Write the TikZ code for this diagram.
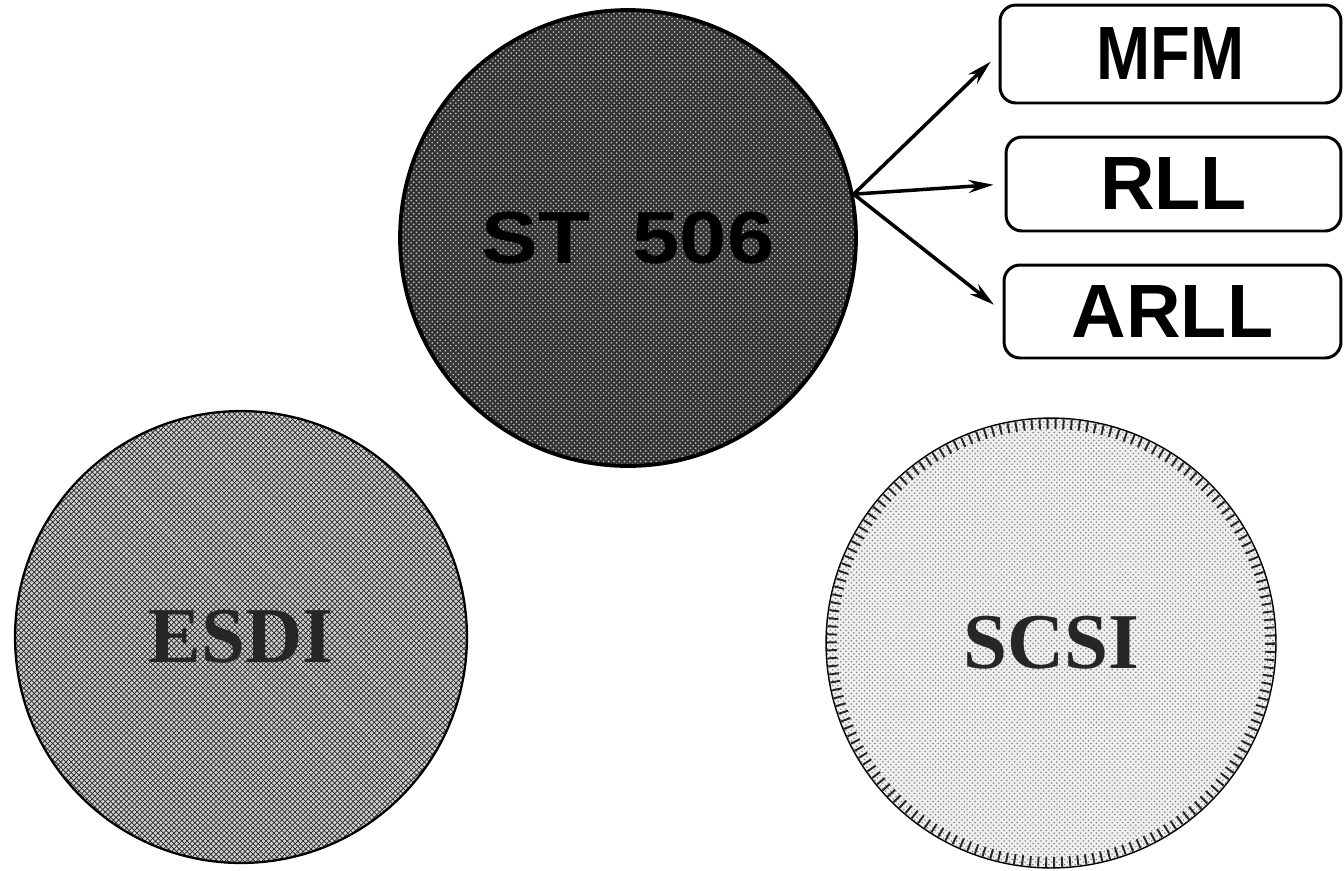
\documentclass[tikz,border=0pt]{standalone}
\usepackage{fontspec}
\usepackage{graphicx}
\setmainfont{Liberation Serif}
\setsansfont{Liberation Sans}
\usetikzlibrary{patterns,arrows.meta}
\begin{document}
\begin{tikzpicture}[x=0.02cm,y=-0.02cm,
  disc/.style={circle, inner sep=0pt, minimum size=#1},
  codebox/.style={draw, line width=1.7pt, rounded corners=0.32cm, inner sep=0pt,
    font=\sffamily\bfseries\fontsize{43}{43}\selectfont},
  conn/.style={-{Stealth[length=0.5cm,width=0.26cm]}, line width=2pt, shorten >=0.22cm}]
\useasboundingbox[fill=white] (0,0) rectangle (1344,870);

% ST 506 (dark dotted disc)
\node[disc=9.12cm, draw, line width=2.2pt, preaction={fill=black!80},
      pattern=crosshatch dots, pattern color=white!80!black,
      font=\sffamily\bfseries\fontsize{42}{42}\selectfont, text=black]
      (st) at (628,238) {\scalebox{1.15}[1]{ST\hspace{0.5em}506}};

% ESDI (cross-hatched disc)
\node[disc=9.04cm, draw, line width=1.3pt, preaction={fill=black!18},
      preaction={pattern=north east lines, pattern color=black!85},
      pattern=north west lines, pattern color=black!85,
      font=\rmfamily\bfseries\fontsize{45}{45}\selectfont, text=black!85]
      (esdi) at (241,637) {ESDI};

% SCSI (light disc with ticked rim)
\node[disc=9.0cm, draw, line width=0.8pt, preaction={fill=black!6},
      pattern=crosshatch dots, pattern color=black!50,
      font=\rmfamily\bfseries\fontsize{45}{45}\selectfont, text=black!85]
      (scsi) at (1051,643) {SCSI};
\draw[line width=0.2cm, dash pattern=on 1.1pt off 3.4pt, black!85]
      (scsi.center) circle[radius=219];

% code boxes
\node[codebox, minimum width=6.82cm, minimum height=1.96cm, fill=white]
      (mfm) at (1170.5,54) {\scalebox{0.86}[1]{MFM}};
\node[codebox, minimum width=6.7cm, minimum height=1.88cm, fill=white]
      (rll) at (1173.5,184) {RLL};
\node[codebox, minimum width=6.74cm, minimum height=1.86cm, fill=white]
      (arll) at (1172.5,311.5) {ARLL};

% connectors
\coordinate (hub) at (st.11);
\draw[conn] (hub) -- (mfm.west);
\draw[conn] (hub) -- (rll.west);
\draw[conn] (hub) -- (arll.west);
\end{tikzpicture}
\end{document}
